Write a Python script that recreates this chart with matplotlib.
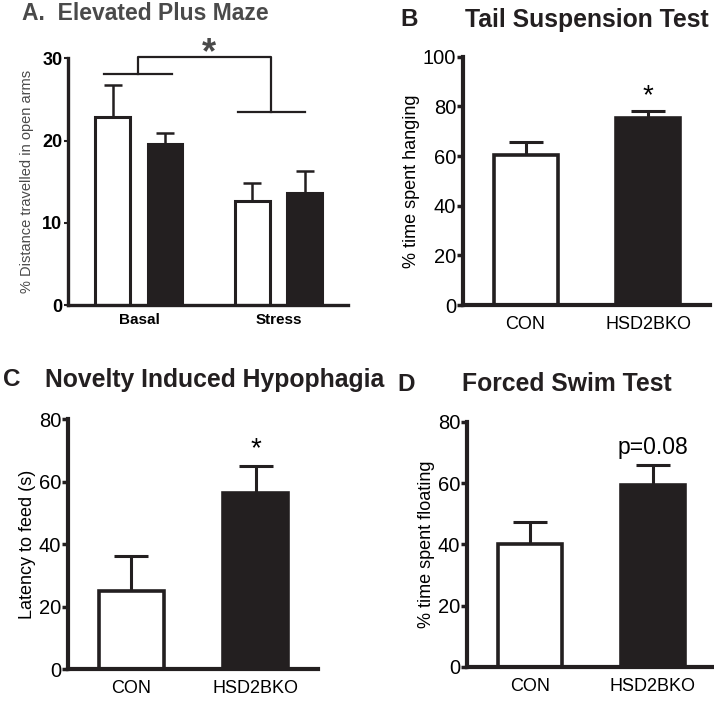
import matplotlib
matplotlib.use('Agg')
import matplotlib.pyplot as plt

plt.rcParams['font.family'] = ['Liberation Sans', 'DejaVu Sans']

INK = '#231f20'
GRAY = '#4a4a4a'

# panel A: elevated plus maze
epm_groups = ['Basal', 'Stress']
epm_con = [22.9, 12.6]
epm_con_err = [3.8, 2.2]
epm_ko = [19.6, 13.6]
epm_ko_err = [1.3, 2.7]

# panels B-D
genotypes = ['CON', 'HSD2BKO']
tst_vals = [60.3, 75.3]
tst_err = [5.2, 2.9]
nih_vals = [24.9, 56.5]
nih_err = [11.4, 8.6]
fst_vals = [40.1, 59.3]
fst_err = [7.1, 6.7]

fig = plt.figure(figsize=(7.14, 7.02), dpi=100)


def style_axes(ax, lw, ticklw):
    ax.spines['top'].set_visible(False)
    ax.spines['right'].set_visible(False)
    ax.spines['left'].set_linewidth(lw)
    ax.spines['bottom'].set_linewidth(lw)
    ax.spines['left'].set_color(INK)
    ax.spines['bottom'].set_color(INK)
    ax.tick_params(axis='y', direction='out', length=4, width=ticklw, color=INK, pad=1)
    ax.tick_params(axis='x', length=0, pad=8)


def two_bar_panel(rect, vals, errs, ylim, yticks, ylabel):
    ax = fig.add_axes(rect)
    x = [1, 2]
    for xi, v, e, fc in zip(x, vals, errs, ['white', INK]):
        ax.errorbar(xi, v, yerr=[[0], [e]], fmt='none', ecolor=INK,
                    elinewidth=2.2, capsize=12, capthick=2.2, zorder=1)
        ax.bar(xi, v, width=0.52, color=fc, edgecolor=INK, linewidth=2.6, zorder=2)
    ax.set_xlim(0.49, 2.5)
    ax.set_ylim(*ylim)
    ax.set_yticks(yticks)
    ax.set_xticks(x, genotypes)
    style_axes(ax, 3.0, 2.5)
    ax.tick_params(axis='y', labelsize=14.5)
    ax.tick_params(axis='x', labelsize=13)
    ax.set_ylabel(ylabel, fontsize=13, labelpad=2)
    return ax


# ---- A ----
axA = fig.add_axes([0.0952, 0.5655, 0.3921, 0.3515])
off = 0.187
for i in range(2):
    for xi, v, e, fc in [(i + 1 - off, epm_con[i], epm_con_err[i], 'white'),
                         (i + 1 + off, epm_ko[i], epm_ko_err[i], INK)]:
        axA.errorbar(xi, v, yerr=[[0], [e]], fmt='none', ecolor=INK,
                     elinewidth=1.8, capsize=6.5, capthick=1.8, zorder=1)
        axA.bar(xi, v, width=0.25, color=fc, edgecolor=INK, linewidth=2.2, zorder=2)
axA.set_xlim(0.491, 2.498)
axA.set_ylim(0, 30)
axA.set_yticks([0, 10, 20, 30])
axA.set_xticks([1, 2], epm_groups)
style_axes(axA, 2.4, 1.5)
axA.tick_params(axis='y', labelsize=13, length=3)
axA.tick_params(axis='x', labelsize=11, pad=6)
for lab in axA.get_yticklabels() + axA.get_xticklabels():
    lab.set_fontweight('bold')
axA.set_ylabel('% Distance travelled in open arms', fontsize=10.5, color=GRAY, labelpad=6)

# significance bracket
kw = dict(color=INK, lw=1.6, clip_on=False)
axA.plot([0.75, 1.24], [28.05, 28.05], **kw)
axA.plot([1.71, 2.19], [23.5, 23.5], **kw)
axA.plot([0.99, 0.99, 1.95, 1.95], [28.05, 30.2, 30.2, 23.5], **kw)
axA.text(1.5, 30.6, '*', ha='center', va='center', fontsize=26, fontweight='bold', color=GRAY)

# ---- B, C, D ----
axB = two_bar_panel([0.6485, 0.5655, 0.3455, 0.3535], tst_vals, tst_err,
                    (0, 100), [0, 20, 40, 60, 80, 100], '% time spent hanging')
axB.text(2, 84, '*', ha='center', va='center', fontsize=20)

axC = two_bar_panel([0.0952, 0.047, 0.35, 0.356], nih_vals, nih_err,
                    (0, 80), [0, 20, 40, 60, 80], 'Latency to feed (s)')
axC.text(2, 70.5, '*', ha='center', va='center', fontsize=20)

axD = two_bar_panel([0.654, 0.050, 0.346, 0.349], fst_vals, fst_err,
                    (0, 80), [0, 20, 40, 60, 80], '% time spent floating')
axD.text(2, 71.6, 'p=0.08', ha='center', va='center', fontsize=16.5)

# panel titles
fig.text(22 / 714, 1 - 13 / 702, 'A.  Elevated Plus Maze', fontsize=16.5,
         fontweight='bold', color=GRAY, ha='left', va='center')
fig.text(400 / 714, 1 - 19 / 702, 'B', fontsize=17.5, fontweight='bold', ha='left', va='center', color=INK)
fig.text(587 / 714, 1 - 20 / 702, 'Tail Suspension Test', fontsize=17.8,
         fontweight='bold', ha='center', va='center', color=INK)
fig.text(3 / 714, 1 - 379 / 702, 'C', fontsize=17.5, fontweight='bold', ha='left', va='center', color=INK)
fig.text(45 / 714, 1 - 380 / 702, 'Novelty Induced Hypophagia', fontsize=17.8,
         fontweight='bold', ha='left', va='center', color=INK)
fig.text(397 / 714, 1 - 384 / 702, 'D', fontsize=17.5, fontweight='bold', ha='left', va='center', color=INK)
fig.text(567 / 714, 1 - 384 / 702, 'Forced Swim Test', fontsize=17.8,
         fontweight='bold', ha='center', va='center', color=INK)

fig.savefig('out.png', dpi=100)
